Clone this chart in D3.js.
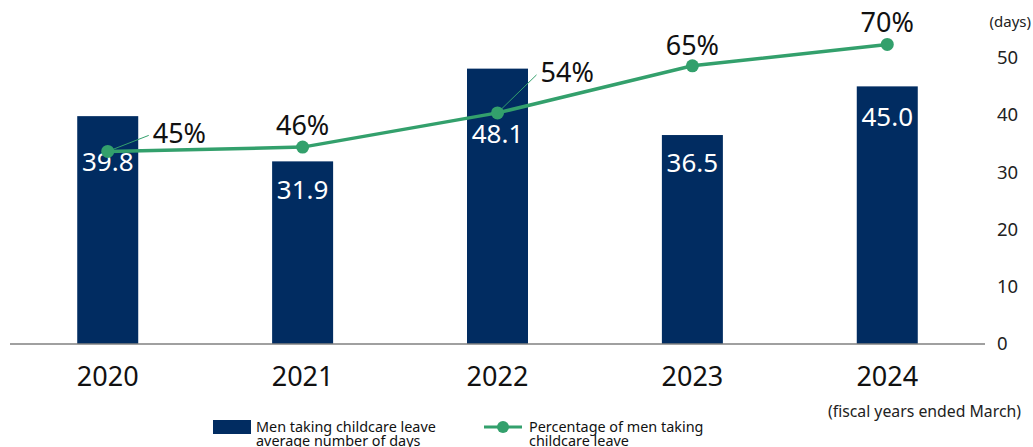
<!DOCTYPE html>
<html>
<head>
<meta charset="utf-8">
<script src="https://cdn.jsdelivr.net/npm/d3@7"></script>
<style>
  body { margin: 0; background: #fff; }
  text { font-family: "Noto Sans", "Open Sans", sans-serif; }
</style>
</head>
<body>
<script>
var years = ["2020", "2021", "2022", "2023", "2024"];
var avgDays = [39.8, 31.9, 48.1, 36.5, 45.0];
var pctMen = [45, 46, 54, 65, 70];
var dayTicks = [0, 10, 20, 30, 40, 50];

var width = 1033, height = 447;
var navy = "#012c61", green = "#33a06c";

var svg = d3.select("body").append("svg")
    .attr("width", width)
    .attr("height", height);

var x = d3.scaleBand().domain(years).range([10, 985]).paddingInner(0.687).paddingOuter(0.345);
var yDays = d3.scaleLinear().domain([0, 60]).range([344, 0.5]);
var yPct = d3.scaleLinear().domain([0, 80]).range([344, 1.6]);

// bars
svg.append("g").selectAll("rect")
    .data(years)
    .enter().append("rect")
    .attr("x", function (d) { return x(d); })
    .attr("width", x.bandwidth())
    .attr("y", function (d, i) { return yDays(avgDays[i]); })
    .attr("height", function (d, i) { return yDays(0) - yDays(avgDays[i]); })
    .attr("fill", navy);

// baseline
svg.append("line")
    .attr("x1", 10).attr("x2", 985)
    .attr("y1", yDays(0)).attr("y2", yDays(0))
    .attr("stroke", "#808080").attr("stroke-width", 1.5);

// right axis
var axisR = d3.axisRight(yDays).tickValues(dayTicks).tickSize(0).tickPadding(0);
var gR = svg.append("g").attr("transform", "translate(997,0)").call(axisR);
gR.select(".domain").remove();
gR.selectAll("text").attr("font-size", 18.5).attr("fill", "#222");

svg.append("text").attr("x", 1031).attr("y", 27).attr("text-anchor", "end")
    .attr("font-size", 15).attr("fill", "#222").text("(days)");

// bottom axis
var axisB = d3.axisBottom(x).tickSize(0).tickPadding(0);
var gB = svg.append("g").attr("transform", "translate(0,367)").call(axisB);
gB.select(".domain").remove();
gB.selectAll("text").attr("font-size", 27).attr("fill", "#111").attr("dy", "0.71em");

svg.append("text").attr("x", 1021).attr("y", 417).attr("text-anchor", "end")
    .attr("font-size", 15.8).attr("fill", "#222").text("(fiscal years ended March)");

// bar value labels, placed below the bar top clear of the line
var labelDrop = [46, 29, 65, 28, 31];
svg.append("g").selectAll("text")
    .data(years)
    .enter().append("text")
    .attr("x", function (d) { return x(d) + x.bandwidth() / 2; })
    .attr("y", function (d, i) { return yDays(avgDays[i]) + labelDrop[i]; })
    .attr("dy", "0.35em")
    .attr("text-anchor", "middle")
    .attr("font-size", 26)
    .attr("fill", "#fff")
    .text(function (d, i) { return avgDays[i].toFixed(1); });

// line
var cx = function (i) { return x(years[i]) + x.bandwidth() / 2; };
var line = d3.line()
    .x(function (d, i) { return cx(i); })
    .y(function (d) { return yPct(d); });

svg.append("path")
    .datum(pctMen)
    .attr("d", line)
    .attr("fill", "none")
    .attr("stroke", green)
    .attr("stroke-width", 3.5);

svg.append("g").selectAll("circle")
    .data(pctMen)
    .enter().append("circle")
    .attr("cx", function (d, i) { return cx(i); })
    .attr("cy", function (d) { return yPct(d); })
    .attr("r", 6.5)
    .attr("fill", green);

// percentage labels: offsets from the point, with leader for some
var pctOffset = [[45, -18, true], [0, -22, false], [43, -40, true], [0, -20, false], [0, -22, false]];
pctMen.forEach(function (p, i) {
    var px = cx(i), py = yPct(p);
    var o = pctOffset[i];
    if (o[2]) {
        svg.append("line")
            .attr("x1", px).attr("y1", py)
            .attr("x2", px + o[0] - 4).attr("y2", py + o[1] + 2)
            .attr("stroke", green).attr("stroke-width", 1);
    }
    svg.append("text")
        .attr("x", px + o[0])
        .attr("y", py + o[1])
        .attr("dy", "0.35em")
        .attr("text-anchor", o[2] ? "start" : "middle")
        .attr("font-size", 27)
        .attr("fill", "#111")
        .text(p + "%");
});

// legend
var lg = svg.append("g");
lg.append("rect").attr("x", 213).attr("y", 420).attr("width", 38).attr("height", 14).attr("fill", navy);
lg.append("text").attr("x", 256).attr("y", 432).attr("font-size", 14.4).attr("fill", "#111")
    .text("Men taking childcare leave");
lg.append("text").attr("x", 256).attr("y", 446).attr("font-size", 14.4).attr("fill", "#111")
    .text("average number of days");
lg.append("line").attr("x1", 484).attr("x2", 522).attr("y1", 427).attr("y2", 427)
    .attr("stroke", green).attr("stroke-width", 3);
lg.append("circle").attr("cx", 503).attr("cy", 427).attr("r", 6).attr("fill", green);
lg.append("text").attr("x", 529).attr("y", 432).attr("font-size", 14.4).attr("fill", "#111")
    .text("Percentage of men taking");
lg.append("text").attr("x", 529).attr("y", 446).attr("font-size", 14.4).attr("fill", "#111")
    .text("childcare leave");
</script>
</body>
</html>
